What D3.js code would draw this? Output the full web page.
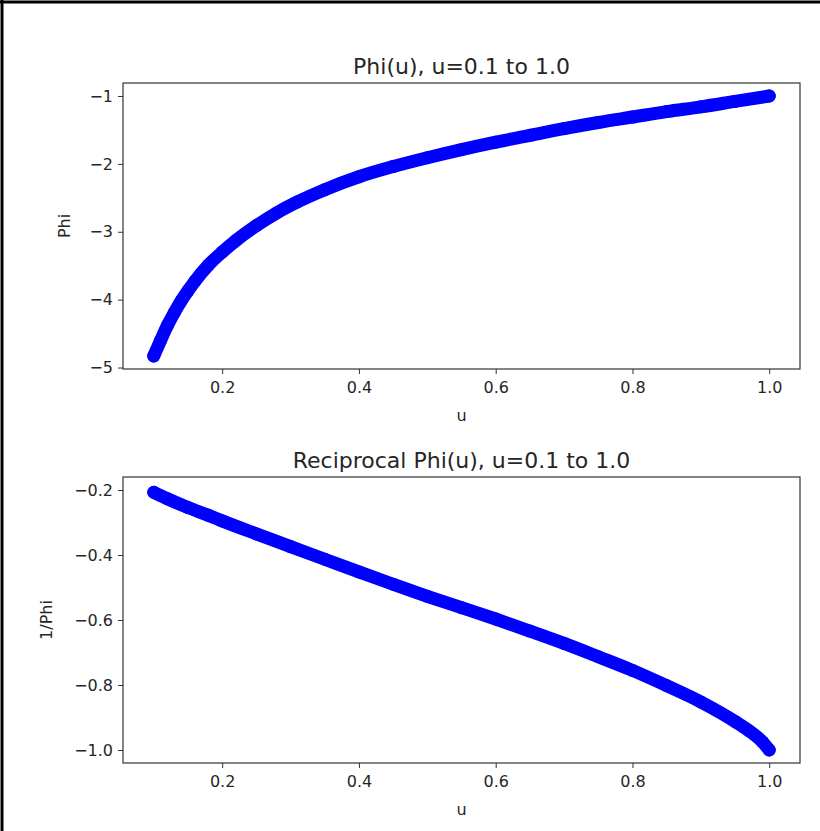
<!DOCTYPE html>
<html>
<head>
<meta charset="utf-8">
<title>Phi(u)</title>
<script src="https://d3js.org/d3.v7.min.js"></script>
<style>
body { margin: 0; background: #fff; }
text { font-family: "DejaVu Sans", sans-serif; fill: #262626; }
.dot { fill: #0000ff; }
.band { fill: none; stroke: #0000ff; stroke-linecap: round; stroke-linejoin: round; }
.frame { fill: none; stroke: #333; stroke-width: 1.2; }
</style>
</head>
<body>
<div id="chart"></div>
<script>
// values
var uPhi   = [0.10, 0.11, 0.12, 0.13, 0.14, 0.15, 0.16, 0.18, 0.20, 0.22, 0.25, 0.28, 0.31, 0.35,
              0.40, 0.45, 0.50, 0.55, 0.60, 0.65, 0.70, 0.75, 0.80, 0.85, 0.90, 0.95, 1.00];
var phi    = [-4.83, -4.60, -4.38, -4.19, -4.02, -3.87, -3.73, -3.49, -3.30, -3.13, -2.91, -2.72, -2.56, -2.38,
              -2.19, -2.04, -1.91, -1.79, -1.68, -1.58, -1.48, -1.39, -1.31, -1.23, -1.16, -1.08, -1.00];

var uRecip = [0.10, 0.12, 0.15, 0.18, 0.20, 0.25, 0.30, 0.35, 0.40, 0.45, 0.50, 0.55,
              0.60, 0.65, 0.70, 0.75, 0.80, 0.85, 0.90, 0.95, 0.97, 0.99, 1.00];
var recip  = [-0.207, -0.227, -0.254, -0.278, -0.295, -0.335, -0.374, -0.413, -0.452, -0.490, -0.527, -0.562,
              -0.597, -0.634, -0.672, -0.713, -0.755, -0.802, -0.852, -0.912, -0.940, -0.975, -1.000];

var xTicks     = [0.2, 0.4, 0.6, 0.8, 1.0];
var phiTicks   = [-1, -2, -3, -4, -5];
var recipTicks = [-0.2, -0.4, -0.6, -0.8, -1.0];

var W = 820, H = 831;
var svg = d3.select("#chart").append("svg")
    .attr("width", W)
    .attr("height", H);

svg.append("rect").attr("width", W).attr("height", H).attr("fill", "#fff");

// outer border of the screenshot (top and left only)
svg.append("line").attr("x1", 0).attr("x2", W).attr("y1", 2).attr("y2", 2)
    .attr("stroke", "#000").attr("stroke-width", 3);
svg.append("line").attr("x1", 2).attr("x2", 2).attr("y1", 0).attr("y2", H)
    .attr("stroke", "#000").attr("stroke-width", 3);

var left = 123, right = 800;
var fmtMinus = function(f) { return function(d) { return f(d).replace("-", "\u2212"); }; };

function panel(opts) {
  var x = d3.scaleLinear().domain([0.055, 1.045]).range([left, right]);
  var y = d3.scaleLinear().domain(opts.yDomain).range([opts.bottom, opts.top]);
  var data = opts.u.map(function(d, i) { return {u: d, v: opts.v[i]}; });

  var g = svg.append("g");

  var line = d3.line()
      .x(function(d) { return x(d.u); })
      .y(function(d) { return y(d.v); })
      .curve(d3.curveMonotoneX);

  g.append("path")
      .datum(data)
      .attr("class", "band")
      .attr("stroke-width", 13)
      .attr("d", line);

  g.selectAll(".dot")
      .data(data)
    .enter().append("circle")
      .attr("class", "dot")
      .attr("cx", function(d) { return x(d.u); })
      .attr("cy", function(d) { return y(d.v); })
      .attr("r", 6.5);

  var xa = g.append("g")
      .attr("transform", "translate(0," + opts.bottom + ")")
      .call(d3.axisBottom(x).tickValues(xTicks).tickFormat(d3.format(".1f")).tickSizeOuter(0).tickSize(5).tickPadding(8));
  var ya = g.append("g")
      .attr("transform", "translate(" + left + ",0)")
      .call(d3.axisLeft(y).tickValues(opts.ticks).tickFormat(fmtMinus(d3.format(opts.fmt))).tickSizeOuter(0).tickSize(5).tickPadding(5));
  [xa, ya].forEach(function(a) {
    a.select(".domain").remove();
    a.selectAll("line").attr("stroke", "#333");
    a.selectAll("text").style("font-size", "16px").style("font-family", "DejaVu Sans").attr("fill", "#262626");
  });

  g.append("rect")
      .attr("class", "frame")
      .attr("x", left).attr("y", opts.top)
      .attr("width", right - left).attr("height", opts.bottom - opts.top);

  g.append("text")
      .attr("x", (left + right) / 2)
      .attr("y", opts.top - 9)
      .attr("text-anchor", "middle")
      .style("font-size", "22px")
      .text(opts.title);

  g.append("text")
      .attr("x", (left + right) / 2)
      .attr("y", opts.bottom + 52)
      .attr("text-anchor", "middle")
      .style("font-size", "16px")
      .text("u");

  g.append("text")
      .attr("transform", "translate(" + opts.ylabX + "," + (opts.top + opts.bottom) / 2 + ") rotate(-90)")
      .attr("text-anchor", "middle")
      .style("font-size", "16px")
      .text(opts.ylabel);
}

panel({u: uPhi, v: phi, top: 83, bottom: 369, yDomain: [-5.0215, -0.8085],
       ticks: phiTicks, fmt: "d", title: "Phi(u), u=0.1 to 1.0", ylabel: "Phi", ylabX: 70});
panel({u: uRecip, v: recip, top: 477, bottom: 763, yDomain: [-1.04, -0.16],
       ticks: recipTicks, fmt: ".1f", title: "Reciprocal Phi(u), u=0.1 to 1.0", ylabel: "1/Phi", ylabX: 52});
</script>
</body>
</html>
